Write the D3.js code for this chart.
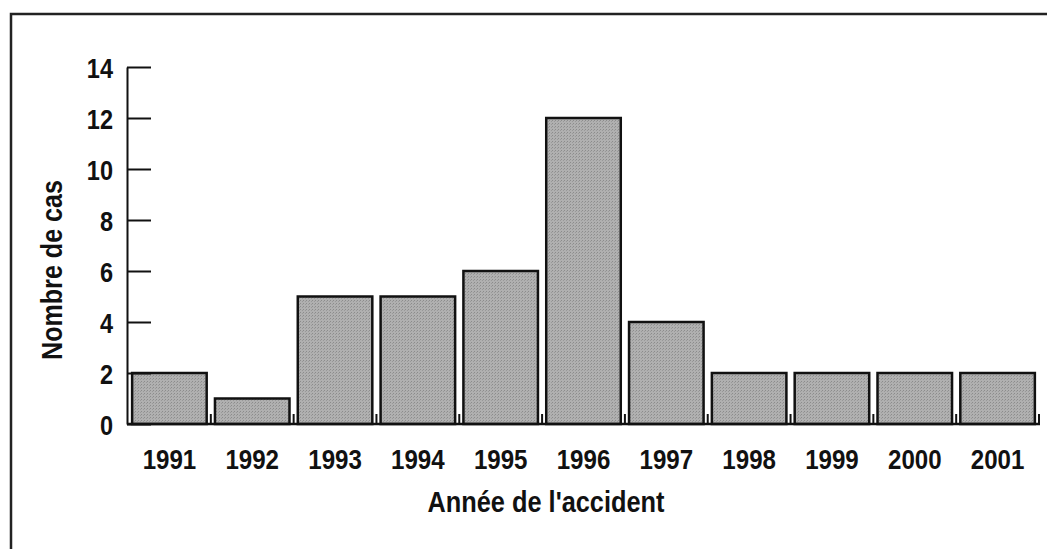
<!DOCTYPE html>
<html>
<head>
<meta charset="utf-8">
<script src="https://cdn.jsdelivr.net/npm/d3@7"></script>
<style>
  body { margin: 0; background: #fff; }
  svg text { font-family: "Liberation Sans", Arial, sans-serif; font-weight: bold; fill: #111; }
</style>
</head>
<body>
<svg width="1047" height="549"></svg>
<script>
// data
var years = ["1991", "1992", "1993", "1994", "1995", "1996", "1997", "1998", "1999", "2000", "2001"];
var cases = [2, 1, 5, 5, 6, 12, 4, 2, 2, 2, 2];
var yTicks = [0, 2, 4, 6, 8, 10, 12, 14];

var svg = d3.select("svg"),
    width = +svg.attr("width"),
    height = +svg.attr("height");

var x = d3.scaleBand()
    .domain(years)
    .range([128, 1039])
    .paddingInner(0.1)
    .paddingOuter(0.05);

var y = d3.scaleLinear()
    .domain([0, 14])
    .range([424, 67]);

// condensed look: squeeze each text horizontally
function narrow(sel, k) {
    sel.each(function () {
        var w = this.getComputedTextLength();
        d3.select(this)
            .attr("textLength", w * k)
            .attr("lengthAdjust", "spacingAndGlyphs");
    });
}

// texture for the bars
var defs = svg.append("defs");
var pat = defs.append("pattern")
    .attr("id", "dots")
    .attr("width", 3)
    .attr("height", 3)
    .attr("patternUnits", "userSpaceOnUse");
pat.append("rect").attr("width", 3).attr("height", 3).attr("fill", "#b0b0b0");
pat.append("rect").attr("width", 1).attr("height", 1).attr("fill", "#8c8c8c");
pat.append("rect").attr("x", 2).attr("y", 1).attr("width", 1).attr("height", 1).attr("fill", "#999");

// frame (top and left only)
svg.append("path")
    .attr("d", "M11," + height + "V14H" + width)
    .attr("fill", "none")
    .attr("stroke", "#222")
    .attr("stroke-width", 2.5);

// bars
svg.append("g")
    .selectAll("rect")
    .data(years)
    .enter().append("rect")
    .attr("x", function (d) { return x(d); })
    .attr("y", function (d, i) { return y(cases[i]); })
    .attr("width", x.bandwidth())
    .attr("height", function (d, i) { return y(0) - y(cases[i]); })
    .attr("fill", "url(#dots)")
    .attr("stroke", "#111")
    .attr("stroke-width", 2.5);

// y axis
var yAxis = svg.append("g")
    .attr("transform", "translate(127,0)")
    .call(d3.axisLeft(y).tickValues(yTicks).tickSize(-24).tickSizeOuter(0).tickPadding(14));
yAxis.selectAll("line, path").attr("stroke", "#111").attr("stroke-width", 2);
yAxis.selectAll("text").style("font-size", "28px").attr("dy", "0.36em").call(narrow, 0.84);

// x axis
var xAxis = svg.append("g")
    .attr("transform", "translate(0,424)")
    .call(d3.axisBottom(x).tickSize(0).tickPadding(25));
xAxis.select("path").attr("d", "M127,0H1040").attr("stroke", "#111").attr("stroke-width", 2.5);
xAxis.selectAll("text").style("font-size", "28px").call(narrow, 0.86);

// small ticks between the bars
svg.append("g")
    .selectAll("line")
    .data(d3.range(1, years.length + 1))
    .enter().append("line")
    .attr("x1", function (i) { return i < years.length ? x(years[i]) - x.step() * x.paddingInner() / 2 : x.range()[1]; })
    .attr("x2", function (i) { return i < years.length ? x(years[i]) - x.step() * x.paddingInner() / 2 : x.range()[1]; })
    .attr("y1", 424)
    .attr("y2", 414)
    .attr("stroke", "#111")
    .attr("stroke-width", 2);

// axis titles
svg.append("text")
    .attr("x", 546)
    .attr("y", 512)
    .attr("text-anchor", "middle")
    .style("font-size", "29px")
    .attr("textLength", 237)
    .attr("lengthAdjust", "spacingAndGlyphs")
    .text("Année de l'accident");

svg.append("text")
    .attr("transform", "translate(62,270) rotate(-90)")
    .attr("text-anchor", "middle")
    .style("font-size", "29px")
    .attr("textLength", 180)
    .attr("lengthAdjust", "spacingAndGlyphs")
    .text("Nombre de cas");
</script>
</body>
</html>
